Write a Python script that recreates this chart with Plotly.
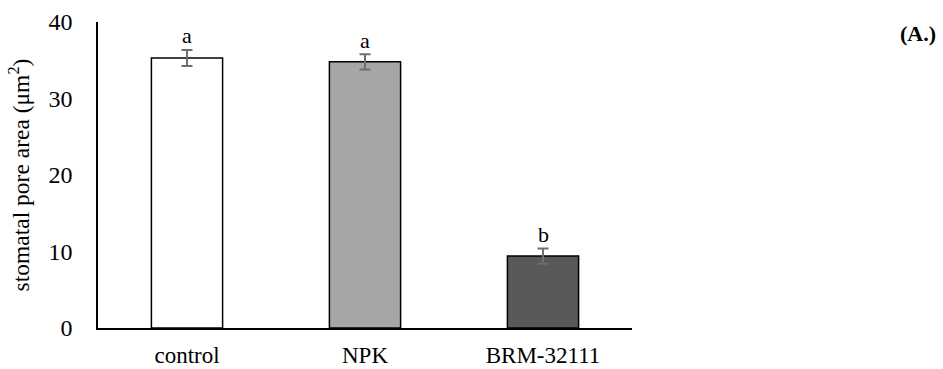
import plotly.graph_objects as go

categories = ["control", "NPK", "BRM-32111"]
values = [35.3, 34.8, 9.4]
errors = [1.05, 1.0, 1.0]
letters = ["a", "a", "b"]
colors = ["#ffffff", "#a6a6a6", "#595959"]

FONT = "Liberation Serif"

fig = go.Figure()
fig.add_trace(go.Bar(
    x=categories, y=values,
    marker=dict(color=colors, line=dict(color="#000000", width=1.5)),
    error_y=dict(type="data", array=errors, color="#6e6e6e", thickness=2, width=5.5),
    width=0.4,
))

for c, v, e, t in zip(categories, values, errors, letters):
    fig.add_annotation(x=c, y=v + e, text=t, showarrow=False, yshift=14,
                       font=dict(family=FONT, size=22, color="#000000"))

fig.add_annotation(xref="paper", yref="paper", x=(938 - 97.5) / 534.5, y=(328 - 34) / 306,
                   xanchor="right", yanchor="middle", text="<b>(A.)</b>", showarrow=False,
                   font=dict(family=FONT, size=22, color="#000000"))

fig.update_layout(
    width=943, height=369,
    margin=dict(l=97.5, r=311, t=22, b=41, autoexpand=False),
    paper_bgcolor="white", plot_bgcolor="white",
    showlegend=False,
    font=dict(family=FONT, size=22, color="#000000"),
)
fig.update_xaxes(showline=True, linecolor="#000000", linewidth=1.5, showgrid=False,
                 automargin=False, ticks="", ticklabelstandoff=6,
                 tickfont=dict(family=FONT, size=23))
fig.update_yaxes(range=[0, 40], dtick=10, showline=True, linecolor="#000000", linewidth=1.5,
                 showgrid=False, zeroline=False, ticks="", ticklabelstandoff=19,
                 automargin=False, tickfont=dict(family=FONT, size=24),
                 title=dict(text="stomatal pore area (μm<sup>2</sup>)", standoff=12,
                            font=dict(family=FONT, size=23.5)))

fig.write_html("out.html")
